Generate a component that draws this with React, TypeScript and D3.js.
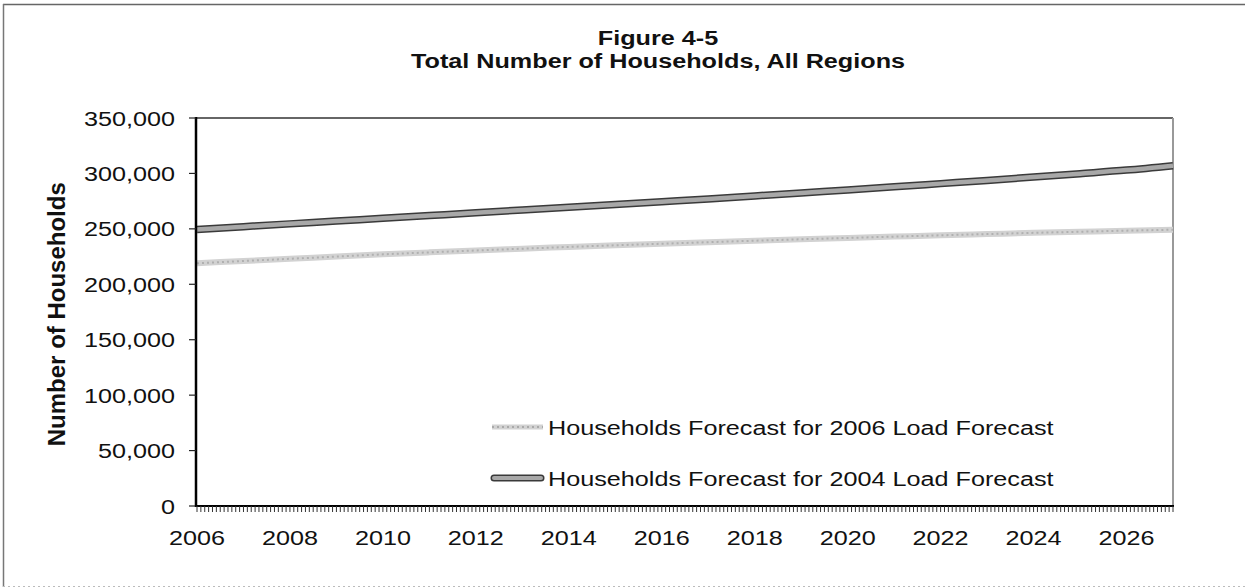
import React from "react";
import * as d3 from "d3";

const years = [2006, 2007, 2008, 2009, 2010, 2011, 2012, 2013, 2014, 2015, 2016, 2017, 2018, 2019, 2020, 2021, 2022, 2023, 2024, 2025, 2026, 2027];
const hh2004 = [249500, 252000, 254500, 257000, 259500, 262000, 264500, 267000, 269500, 272000, 274500, 277000, 279700, 282400, 285100, 287900, 290800, 293700, 296700, 299800, 303000, 307000];
const hh2006 = [219000, 221000, 223000, 225000, 227000, 228800, 230500, 232100, 233700, 235200, 236600, 238000, 239300, 240600, 241800, 243000, 244200, 245300, 246400, 247400, 248400, 249200];
const yTicks = [0, 50000, 100000, 150000, 200000, 250000, 300000, 350000];
const xTicks = [2006, 2008, 2010, 2012, 2014, 2016, 2018, 2020, 2022, 2024, 2026];
const titleLines = ["Figure 4-5", "Total Number of Households, All Regions"];
const yLabel = "Number of Households";
const legendLabels = ["Households Forecast for 2006 Load Forecast", "Households Forecast for 2004 Load Forecast"];

const W = 1245;
const H = 588;
const FONT = "'Liberation Sans', Arial, Helvetica, sans-serif";
const SX = 1.2;

function T(props: { x: number; y: number; anchor?: string; size?: number; weight?: string; sx?: number; rotate?: number; children: React.ReactNode }) {
  const { x, y, anchor = "start", size = 21, weight = "normal", sx = SX, rotate = 0, children } = props;
  return (
    <text
      transform={`translate(${x},${y}) scale(${sx},1)${rotate ? ` rotate(${rotate})` : ""}`}
      textAnchor={anchor as any}
      fontSize={size}
      fontWeight={weight}
      fontFamily={FONT}
      fill="#111"
    >
      {children}
    </text>
  );
}

export default function App() {
  const x = d3.scaleLinear().domain([2006, 2027]).range([197, 1173]);
  const y = d3.scaleLinear().domain([0, 350000]).range([506, 118]);
  const line = d3.line<number>().x((_, i) => x(years[i])).y((d) => y(d)).curve(d3.curveMonotoneX);
  const minor = d3.range(0, 21 * 12 + 1).map((m) => 2006 + m / 12);
  const fmt = d3.format(",");
  const x0 = x(2006);
  const x1 = x(2027);
  const yTop = y(350000);
  const yBot = y(0);

  return (
    <div style={{ position: "absolute", left: 0, top: 0 }}>
      <svg width={W} height={H} style={{ display: "block", background: "#fff" }}>
        {/* outer frame */}
        <line x1={3} y1={4.5} x2={W} y2={4.5} stroke="#666" strokeWidth={1.5} />
        <line x1={3.5} y1={4} x2={3.5} y2={587} stroke="#777" strokeWidth={1.5} />
        <line x1={3} y1={586.5} x2={W} y2={586.5} stroke="#bbb" strokeWidth={1} strokeDasharray="2,3" />

        {/* title */}
        <T x={658} y={45} anchor="middle" weight="bold">{titleLines[0]}</T>
        <T x={658} y={68} anchor="middle" weight="bold">{titleLines[1]}</T>

        {/* plot frame */}
        <line x1={x0} y1={yTop} x2={x1} y2={yTop} stroke="#333" strokeWidth={1.5} />
        <line x1={x1} y1={yTop} x2={x1} y2={yBot} stroke="#999" strokeWidth={2} />

        {/* lines */}
        <path d={line(hh2006) || ""} fill="none" stroke="#d2d2d2" strokeWidth={6} />
        <path d={line(hh2006) || ""} fill="none" stroke="#b0b0b0" strokeWidth={2} strokeDasharray="2,3" />
        <path d={line(hh2004) || ""} fill="none" stroke="#3a3a3a" strokeWidth={7.5} />
        <path d={line(hh2004) || ""} fill="none" stroke="#a8a8a8" strokeWidth={4.5} />

        {/* y axis */}
        <line x1={x0 - 1} y1={yTop - 1} x2={x0 - 1} y2={yBot + 1} stroke="#000" strokeWidth={2.5} />
        {yTicks.map((t) => (
          <g key={t}>
            <line x1={x0 - 8} x2={x0 - 1} y1={y(t)} y2={y(t)} stroke="#222" strokeWidth={1.2} />
            <T x={175} y={y(t) + 7.5} anchor="end">{fmt(t)}</T>
          </g>
        ))}
        <T x={65} y={y(173000)} anchor="middle" weight="bold" size={24} sx={1} rotate={-90}>{yLabel}</T>

        {/* x axis */}
        <line x1={x0 - 2} y1={yBot} x2={x1 + 1} y2={yBot} stroke="#000" strokeWidth={2} />
        {minor.map((m, i) => (
          <line key={i} x1={x(m)} x2={x(m)} y1={yBot} y2={yBot + 6} stroke="#333" strokeWidth={1} />
        ))}
        {xTicks.map((t) => (
          <T key={t} x={x(t)} y={545} anchor="middle">{t}</T>
        ))}

        {/* legend */}
        <line x1={492} x2={543} y1={427} y2={427} stroke="#d2d2d2" strokeWidth={5} />
        <line x1={492} x2={543} y1={427} y2={427} stroke="#aaa" strokeWidth={2} strokeDasharray="2,3" />
        <T x={548} y={434.5} anchor="start">{legendLabels[0]}</T>
        <line x1={494} x2={541} y1={478} y2={478} stroke="#3a3a3a" strokeWidth={7} strokeLinecap="round" />
        <line x1={494} x2={541} y1={478} y2={478} stroke="#a8a8a8" strokeWidth={4} strokeLinecap="round" />
        <T x={548} y={485.5} anchor="start">{legendLabels[1]}</T>
      </svg>
    </div>
  );
}
